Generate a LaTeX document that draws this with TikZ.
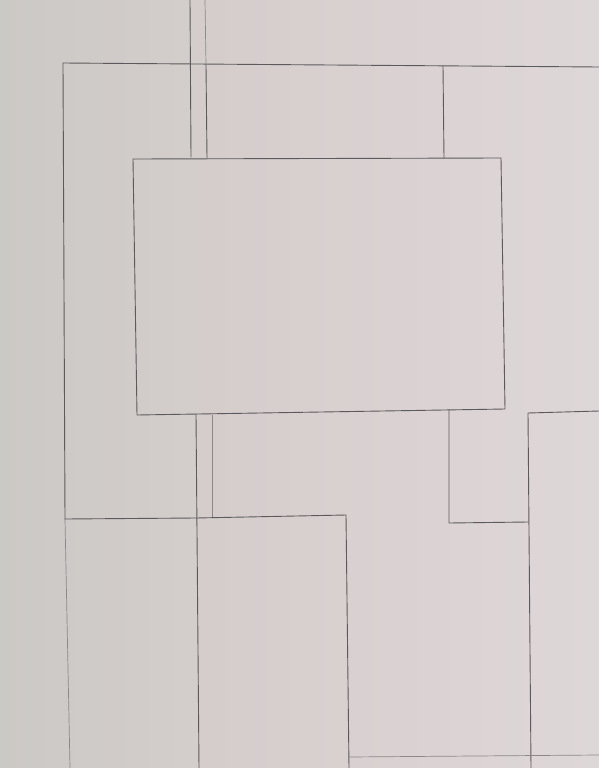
\documentclass[tikz,border=0pt]{standalone}
\definecolor{paperL}{RGB}{203,201,197}
\definecolor{paperM}{RGB}{216,207,207}
\definecolor{paperR}{RGB}{222,215,216}
\definecolor{penc}{RGB}{92,90,92}
\definecolor{pencl}{RGB}{140,136,138}
\begin{document}
\begin{tikzpicture}[x=1pt,y=-1pt,
  pencil/.style={line width=0.9pt, draw=penc, line cap=round, line join=round},
  faint/.style={line width=0.7pt, draw=pencl, line cap=round}]
\useasboundingbox (0,0) rectangle (599,768);
\shade[left color=paperL, right color=paperR, middle color=paperM] (0,0) rectangle (599,768);
% named corner points
\coordinate (oTL) at (63,63);
\coordinate (oTR) at (599,67);
\coordinate (oLm) at (65,519);
\coordinate (oLb) at (70,768);
\coordinate (iTL) at (133,159);
\coordinate (iTR) at (501,158);
\coordinate (iBR) at (505,409);
\coordinate (iBL) at (137,415);
% outer frame
\draw[pencil] (oTR) -- (oTL) -- (oLm);
\draw[faint] (oLm) -- (oLb);
% verticals at the top
\draw[pencil] (190,0) -- (191,157);
\draw[faint] (205,0) -- (206,65);
\draw[pencil] (206,65) -- (207,158);
\draw[pencil] (443,66) -- (444,158);
% inner rectangle
\draw[pencil] (iTL) -- (iTR) -- (iBR) -- (iBL) -- cycle;
% right of the inner rectangle
\draw[pencil] (599,411) -- (528,413) -- (531,768);
% lower left block
\draw[pencil] (196,414) -- (199,768);
\draw[faint] (212,415) -- (212,517);
\draw[pencil] (oLm) -- (196,518) -- (346,515) -- (349,768);
% lower middle step
\draw[pencil] (449,410) -- (449,523) -- (528,522);
% bottom line
\draw[faint] (349,757) -- (599,755);
\end{tikzpicture}
\end{document}
